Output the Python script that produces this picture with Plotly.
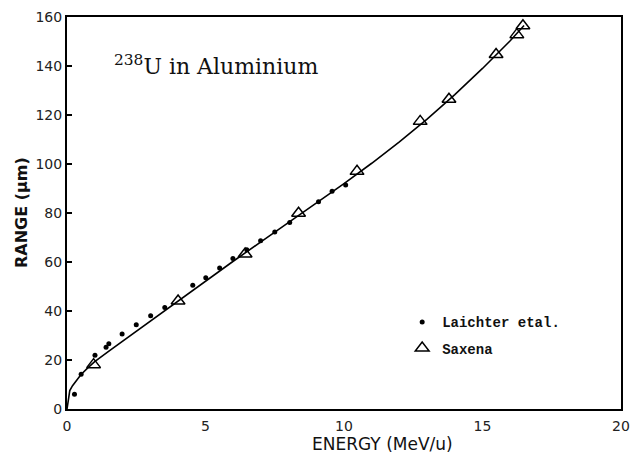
import plotly.graph_objects as go

# Fitted range-energy curve for 238U stopping in aluminium
curve_energy = [0, 0.05, 0.1, 0.2, 0.3, 0.5, 0.75, 1, 1.5, 2, 3, 4, 5, 6, 7, 8,
                9, 10, 11, 12, 13, 14, 15, 16, 16.5]
curve_range = [0, 4.5, 7.5, 9.5, 11, 14, 16.8, 19.3, 23.5, 27.6, 35.9, 44.2, 52.3,
               60.3, 68.2, 76.1, 84, 92, 100.3, 109, 118.3, 128.3, 139, 150.3, 156.5]

# Measured ranges (Laichter et al.)
laichter_energy = [0.27, 0.51, 1.01, 1.41, 1.51, 1.99, 2.50, 3.02, 3.53, 4.54, 5.01,
                   5.51, 5.99, 6.49, 6.99, 7.50, 8.04, 9.08, 9.57, 10.06]
laichter_range = [6.0, 14.2, 21.9, 25.2, 26.6, 30.6, 34.4, 38.1, 41.4, 50.5, 53.6,
                  57.6, 61.4, 65.0, 68.7, 72.2, 76.1, 84.6, 88.9, 91.4]

# Calculated ranges (Saxena)
saxena_energy = [0.96, 4.01, 6.43, 8.36, 10.47, 12.75, 13.79, 15.49, 16.24, 16.46]
saxena_range = [18.1, 44.1, 63.3, 79.9, 97.0, 117.4, 126.4, 144.7, 152.8, 156.4]

x_ticks = [0, 5, 10, 15, 20]
y_ticks = [0, 20, 40, 60, 80, 100, 120, 140, 160]

fig = go.Figure()

fig.add_trace(go.Scatter(
    x=curve_energy, y=curve_range, mode="lines",
    line=dict(color="black", width=1.6), showlegend=False, hoverinfo="skip"))

fig.add_trace(go.Scatter(
    x=laichter_energy, y=laichter_range, mode="markers", name="Laichter etal.",
    legendgroup="a",
    marker=dict(symbol="circle", size=5, color="black")))

fig.add_trace(go.Scatter(
    x=saxena_energy, y=saxena_range, mode="markers", name="Saxena",
    legendgroup="b",
    marker=dict(symbol="triangle-up-open", size=12, color="black",
                line=dict(width=1.5, color="black"))))

axis_common = dict(
    showline=True, linecolor="black", linewidth=2, mirror=True,
    showgrid=False, zeroline=False,
    tickfont=dict(family="DejaVu Sans", size=14, color="#222"),
)

fig.update_xaxes(range=[0, 20], tickvals=x_ticks, ticks="", ticklabelstandoff=3,
                 **axis_common)
fig.update_yaxes(range=[0, 160], tickvals=y_ticks, ticks="inside", ticklen=5,
                 tickwidth=1.5, tickcolor="black", **axis_common)

fig.update_layout(
    width=639, height=454,
    margin=dict(l=67, r=9, t=14, b=45),
    paper_bgcolor="white", plot_bgcolor="white",
    legend=dict(
        x=0.605, y=0.262, xanchor="left", yanchor="top",
        traceorder="grouped", tracegroupgap=5,
        bgcolor="rgba(0,0,0,0)",
        font=dict(family="Liberation Mono", size=14, color="#111", weight="bold"),
    ),
    annotations=[
        dict(text="<sup>238</sup>U in Aluminium", x=0.082, y=0.878,
             xref="paper", yref="paper", xanchor="left", yanchor="middle",
             showarrow=False,
             font=dict(family="DejaVu Serif", size=22, color="#111")),
        dict(text="ENERGY (MeV/u)", x=0.57, y=-0.089,
             xref="paper", yref="paper", xanchor="center", yanchor="middle",
             showarrow=False,
             font=dict(family="DejaVu Sans", size=17, color="#111")),
        dict(text="<b>RANGE (µm)</b>", x=-0.083, y=0.5,
             xref="paper", yref="paper", xanchor="center", yanchor="middle",
             textangle=-90, showarrow=False,
             font=dict(family="DejaVu Sans", size=16, color="#111")),
    ],
)

fig.write_html("out.html")
